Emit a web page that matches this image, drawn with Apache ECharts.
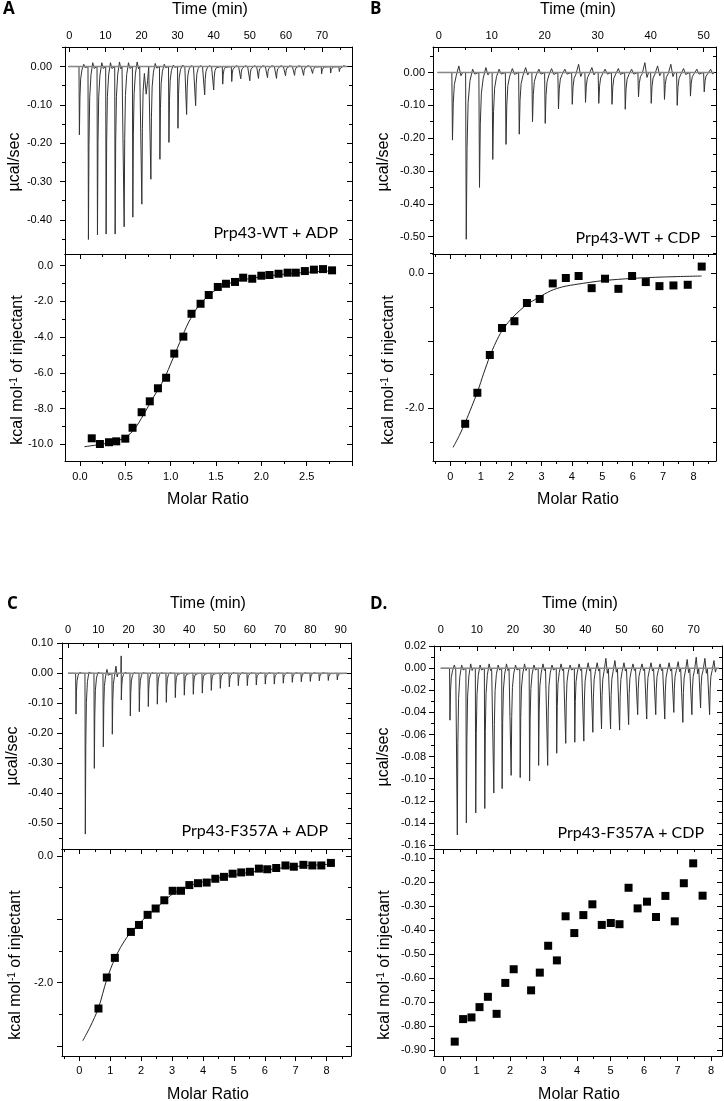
<!DOCTYPE html>
<html><head><meta charset="utf-8">
<script src="https://cdn.jsdelivr.net/npm/echarts@6/dist/echarts.min.js"></script>
<style>html,body{margin:0;padding:0;background:#fff}#c{width:724px;height:1101px}</style>
</head><body><div id="c"></div>
<script>
// ---------------- DATA ----------------
// Panel A: Prp43-WT + ADP
const aInjTime = [2.8,5.3,7.8,10.2,12.7,15.2,17.6,20.1,22.6,25.1,27.6,30.1,32.5,35.0,37.5,40.0,42.5,45.0,47.5,50.0,52.4,54.9,57.4,59.9,62.4,64.9,67.4,69.9,72.4,74.8];
const aPeak = [-0.178,-0.451,-0.439,-0.437,-0.437,-0.418,-0.393,-0.359,-0.294,-0.242,-0.198,-0.161,-0.125,-0.102,-0.074,-0.061,-0.046,-0.039,-0.032,-0.037,-0.031,-0.029,-0.031,-0.024,-0.023,-0.023,-0.018,-0.019,-0.017,-0.013];
const aBump = [0.006,0.01,0.01,0.01,0.012,0.01,0.012,-0.072,0.008,0.006,0.004,0.003,0.002,0.002,0.002,0.002,0.002,0.002,0.002,0.002,0.002,0.002,0.002,0.002,0.002,0.002,0.002,0.002,0.002,0.002];
const aRatio = [0.13,0.22,0.32,0.40,0.50,0.58,0.68,0.77,0.86,0.95,1.04,1.14,1.23,1.33,1.42,1.52,1.61,1.71,1.80,1.90,2.00,2.09,2.19,2.29,2.38,2.48,2.58,2.68,2.78];
const aHeat = [-9.66,-9.98,-9.88,-9.83,-9.68,-9.07,-8.20,-7.59,-6.86,-6.27,-4.92,-3.97,-2.69,-2.13,-1.64,-1.19,-1.01,-0.91,-0.67,-0.73,-0.56,-0.52,-0.45,-0.39,-0.39,-0.30,-0.22,-0.19,-0.26];
const aFitX = [0.05,0.2,0.35,0.5,0.6,0.7,0.8,0.9,0.95,1.0,1.05,1.1,1.15,1.2,1.3,1.4,1.5,1.6,1.7,1.85,2.0,2.2,2.4,2.6,2.77];
const aFitY = [-10.13,-10.02,-9.88,-9.62,-9.15,-8.35,-7.45,-6.6,-6.1,-5.5,-4.9,-4.3,-3.7,-3.15,-2.3,-1.75,-1.35,-1.08,-0.9,-0.74,-0.62,-0.5,-0.41,-0.34,-0.29];
const aTimeLabels = [0,10,20,30,40,50,60,70];
const aRawLabels = [0,-0.1,-0.2,-0.3,-0.4];
const aRatioLabels = [0,0.5,1,1.5,2,2.5];
const aHeatLabels = [0,-2,-4,-6,-8,-10];

// Panel B: Prp43-WT + CDP
const bInjTime = [2.6,5.2,7.7,10.2,12.7,15.2,17.7,20.1,22.6,25.2,27.7,30.2,32.7,35.2,37.7,40.1,42.6,45.0,47.5,50.1];
const bPeak = [-0.206,-0.508,-0.350,-0.265,-0.219,-0.188,-0.150,-0.155,-0.111,-0.097,-0.091,-0.094,-0.097,-0.112,-0.074,-0.094,-0.082,-0.100,-0.072,-0.059];
const bBump = [0.02,0.01,0.015,0.01,0.012,0.015,0.01,0.012,0.01,0.025,0.015,0.01,0.012,0.01,0.03,0.02,0.025,0.012,0.01,0.01];
const bRatio = [0.49,0.89,1.30,1.70,2.11,2.52,2.94,3.37,3.80,4.22,4.65,5.09,5.53,5.98,6.43,6.88,7.34,7.81,8.27];
const bHeat = [-2.23,-1.77,-1.21,-0.81,-0.71,-0.44,-0.38,-0.15,-0.07,-0.04,-0.22,-0.08,-0.23,-0.04,-0.13,-0.19,-0.18,-0.17,0.10];
const bFitX = [0.09,0.3,0.5,0.7,0.9,1.1,1.3,1.5,1.7,1.9,2.1,2.5,2.9,3.3,3.7,4.2,5.0,6.0,7.0,8.27];
const bFitY = [-2.58,-2.4,-2.2,-1.98,-1.75,-1.48,-1.23,-1.02,-0.85,-0.73,-0.63,-0.47,-0.36,-0.26,-0.2,-0.16,-0.11,-0.075,-0.055,-0.04];
const bTimeLabels = [0,10,20,30,40,50];
const bRawLabels = [0,-0.1,-0.2,-0.3,-0.4,-0.5];
const bRatioLabels = [0,1,2,3,4,5,6,7,8];
const bHeatLabels = [0,-2];

// Panel C: Prp43-F357A + ADP
const cInjTime = [2.64,5.72,8.69,11.66,14.63,17.6,20.57,23.54,26.51,29.48,32.45,35.42,38.39,41.36,44.33,47.3,50.27,53.24,56.21,59.18,62.15,65.12,68.09,71.06,74.03,77.0,79.97,82.94,85.91,88.88];
const cPeak = [-0.136,-0.536,-0.317,-0.245,-0.203,-0.089,-0.142,-0.128,-0.111,-0.103,-0.097,-0.081,-0.073,-0.070,-0.066,-0.057,-0.050,-0.045,-0.041,-0.041,-0.039,-0.036,-0.036,-0.033,-0.030,-0.028,-0.027,-0.025,-0.024,-0.022];
const cBump = [0.003,0.004,0.003,0.013,0.024,0.003,0.002,0.002,0.002,0.002,0.002,0.002,0.002,0.002,0.002,0.002,0.002,0.002,0.002,0.002,0.002,0.002,0.002,0.002,0.002,0.002,0.002,0.002,0.002,0.002];
const cPre = [0,0,0,0,0,0.058,0,0,0,0,0,0,0,0,0,0,0,0,0,0,0,0,0,0,0,0,0,0,0,0];
const cRatio = [0.62,0.89,1.15,1.67,1.93,2.21,2.47,2.75,3.02,3.29,3.56,3.84,4.12,4.40,4.68,4.96,5.24,5.52,5.81,6.08,6.37,6.67,6.94,7.25,7.54,7.83,8.14];
const cHeat = [-2.41,-1.92,-1.61,-1.20,-1.09,-0.93,-0.83,-0.70,-0.55,-0.55,-0.46,-0.43,-0.42,-0.36,-0.33,-0.28,-0.26,-0.25,-0.20,-0.21,-0.19,-0.15,-0.17,-0.14,-0.15,-0.15,-0.11];
const cFitX = [0.11,0.35,0.62,0.89,1.15,1.4,1.67,1.93,2.21,2.47,2.75,3.02,3.3,3.56,3.84,4.4,4.96,5.5,6.1,6.7,7.3,8.14];
const cFitY = [-2.92,-2.7,-2.4,-1.95,-1.62,-1.39,-1.2,-1.07,-0.94,-0.83,-0.71,-0.6,-0.53,-0.47,-0.43,-0.36,-0.3,-0.26,-0.22,-0.18,-0.155,-0.13];
const cTimeLabels = [0,10,20,30,40,50,60,70,80,90];
const cRawLabels = [0.1,0,-0.1,-0.2,-0.3,-0.4,-0.5];
const cRatioLabels = [0,1,2,3,4,5,6,7,8];
const cHeatLabels = [0,-2];

// Panel D: Prp43-F357A + CDP
const dInjTime = [2.57,4.6,7.1,9.7,12.2,14.7,17.0,19.5,22.0,24.6,27.1,29.6,32.1,34.6,37.1,39.6,42.1,44.5,47.0,49.5,52.0,54.5,57.0,59.5,62.0,64.5,67.0,69.5,71.9,74.4];
const dPeak = [-0.047,-0.151,-0.140,-0.131,-0.127,-0.113,-0.109,-0.097,-0.099,-0.102,-0.088,-0.088,-0.077,-0.068,-0.067,-0.066,-0.058,-0.055,-0.055,-0.056,-0.051,-0.042,-0.046,-0.042,-0.046,-0.040,-0.049,-0.042,-0.036,-0.042];
const dBump = [0.003,0.003,0.004,0.003,0.004,0.003,0.004,0.003,0.004,0.003,0.004,0.003,0.004,0.003,0.004,0.005,0.005,0.009,0.007,0.005,0.004,0.004,0.005,0.004,0.005,0.006,0.008,0.01,0.009,0.007];
const dRatio = [0.35,0.60,0.85,1.09,1.34,1.60,1.86,2.11,2.63,2.89,3.14,3.40,3.66,3.92,4.19,4.46,4.74,5.01,5.27,5.54,5.81,6.09,6.36,6.64,6.92,7.19,7.47,7.75];
const dHeat = [-0.865,-0.771,-0.764,-0.721,-0.678,-0.749,-0.620,-0.563,-0.651,-0.577,-0.465,-0.526,-0.342,-0.412,-0.337,-0.292,-0.378,-0.370,-0.375,-0.223,-0.309,-0.281,-0.345,-0.257,-0.363,-0.204,-0.121,-0.256];
const dTimeLabels = [0,10,20,30,40,50,60,70];
const dRawLabels = [0.02,0,-0.02,-0.04,-0.06,-0.08,-0.1,-0.12,-0.14,-0.16];
const dRatioLabels = [0,1,2,3,4,5,6,7,8];
const dHeatLabels = [-0.1,-0.2,-0.3,-0.4,-0.5,-0.6,-0.7,-0.8,-0.9];

// ---------------- BUILD ----------------
const FONT = '"Liberation Sans", Arial, sans-serif';
const grids = [], xAxes = [], yAxes = [], series = [];

function steps(a, b, s) {
  const r = [];
  for (let k = Math.ceil(a / s - 1e-9); k * s <= b + 1e-9; k++) r.push(+(k * s).toFixed(6));
  return r;
}
function axis(dim, gi, pos, range, o) {
  const a = {
    type: 'value', gridIndex: gi, position: pos, min: range[0], max: range[1],
    axisLine: { show: o.line !== false, onZero: false, lineStyle: { color: '#000', width: 1 } },
    axisTick: { show: !!o.ticks, inside: !!o.inside, length: o.len || 5, lineStyle: { color: '#000', width: 1 } },
    axisLabel: { show: !!o.labels },
    splitLine: { show: false }, minorTick: { show: false }, minorSplitLine: { show: false },
    axisPointer: { show: false }, silent: true
  };
  if (o.ticks) a.axisTick.customValues = o.ticks;
  if (o.labels) Object.assign(a.axisLabel, { customValues: o.labels, formatter: o.fmt, margin: o.margin, fontSize: 11, fontFamily: FONT, color: '#000' });
  const arr = dim === 'x' ? xAxes : yAxes;
  arr.push(a);
  return arr.length - 1;
}
function panel(p) {
  grids.push({ left: p.rect[0], top: p.rect[1], width: p.rect[2], height: p.rect[3], containLabel: false, outerBoundsMode: 'none' });
  const gi = grids.length - 1;
  const top = p.kind === 'top';
  const xi = axis('x', gi, top ? 'top' : 'bottom', p.x, { ticks: steps(p.x[0], p.x[1], p.xMaj), inside: top, labels: p.xLabels, fmt: p.xFmt, margin: p.xMargin });
  axis('x', gi, top ? 'top' : 'bottom', p.x, { line: false, ticks: steps(p.x[0], p.x[1], p.xMin), inside: top, len: 3 });
  if (top) {
    axis('x', gi, 'bottom', p.x, {});
  } else {
    axis('x', gi, 'top', p.x, { ticks: steps(p.x[0], p.x[1], p.xMaj), inside: true });
    axis('x', gi, 'top', p.x, { line: false, ticks: steps(p.x[0], p.x[1], p.xMin), inside: true, len: 3 });
  }
  const yi = axis('y', gi, 'left', p.y, { ticks: steps(p.y[0], p.y[1], p.yMaj), inside: false, labels: p.yLabels, fmt: p.yFmt, margin: p.yMargin });
  axis('y', gi, 'left', p.y, { line: false, ticks: steps(p.y[0], p.y[1], p.yMin), inside: false, len: 3 });
  axis('y', gi, 'right', p.y, { ticks: steps(p.y[0], p.y[1], p.yMaj), inside: true });
  axis('y', gi, 'right', p.y, { line: false, ticks: steps(p.y[0], p.y[1], p.yMin), inside: true, len: 3 });
  return { xi, yi };
}
// each injection drawn as a narrow needle with a short recovery tail
function trace(times, peaks, bumps, pres, start, end) {
  const d = [[start, 0]];
  times.forEach((t, i) => {
    const p = peaks[i], b = bumps[i];
    d.push([t - 0.12, 0]);
    if (pres && pres[i]) d.push([t - 0.05, pres[i]]);
    d.push([t, p]);
    d.push([t + 0.15, p * 0.45]);
    d.push([t + 0.35, p * 0.18]);
    d.push([t + 0.7, p * 0.05]);
    d.push([t + 1.2, b]);
    d.push([t + 1.6, -0.5 * Math.abs(b)]);
    d.push([t + 1.9, 0]);
  });
  d.push([end, 0]);
  return d;
}
function addTop(ax, times, peaks, bumps, pres, start, end) {
  series.push({ type: 'line', xAxisIndex: ax.xi, yAxisIndex: ax.yi, data: trace(times, peaks, bumps, pres, start, end),
    symbol: 'none', lineStyle: { color: '#333', width: 1 }, silent: true, animation: false, z: 2 });
  series.push({ type: 'line', xAxisIndex: ax.xi, yAxisIndex: ax.yi, data: [[start, 0], [end, 0]],
    symbol: 'none', lineStyle: { color: '#888', width: 1.5 }, silent: true, animation: false, z: 3 });
}
function addBottom(ax, rx, ry, fx, fy) {
  if (fx) series.push({ type: 'line', xAxisIndex: ax.xi, yAxisIndex: ax.yi, data: fx.map((v, i) => [v, fy[i]]),
    symbol: 'none', smooth: 0.3, lineStyle: { color: '#222', width: 1 }, silent: true, animation: false, z: 2 });
  series.push({ type: 'scatter', xAxisIndex: ax.xi, yAxisIndex: ax.yi, data: rx.map((v, i) => [v, ry[i]]),
    symbol: 'rect', symbolSize: 8, itemStyle: { color: '#000', opacity: 1 }, silent: true, animation: false, z: 3 });
}
const f0 = v => v.toFixed(0), f1 = v => v.toFixed(1), f2 = v => v.toFixed(2);

// A
let ax = panel({ kind: 'top', rect: [65, 47, 287, 207], x: [-1.19, 78.31], y: [-0.489, 0.051], xMaj: 10, xMin: 5, yMaj: 0.1, yMin: 0.05,
  xLabels: aTimeLabels, xFmt: f0, xMargin: 6, yLabels: aRawLabels, yFmt: f2, yMargin: 13 });
addTop(ax, aInjTime, aPeak, aBump, null, -0.3, 77);
ax = panel({ kind: 'bottom', rect: [65, 254, 287, 207], x: [-0.165, 3.0], y: [-10.93, 0.655], xMaj: 0.5, xMin: 0.25, yMaj: 2, yMin: 1,
  xLabels: aRatioLabels, xFmt: f1, xMargin: 10, yLabels: aHeatLabels, yFmt: f1, yMargin: 12 });
addBottom(ax, aRatio, aHeat, aFitX, aFitY);
// B
ax = panel({ kind: 'top', rect: [433, 47, 283, 207], x: [-1.075, 52.32], y: [-0.5528, 0.0776], xMaj: 10, xMin: 5, yMaj: 0.1, yMin: 0.05,
  xLabels: bTimeLabels, xFmt: f0, xMargin: 6, yLabels: bRawLabels, yFmt: f2, yMargin: 8 });
addTop(ax, bInjTime, bPeak, bBump, null, -0.2, 52);
ax = panel({ kind: 'bottom', rect: [433, 254, 283, 207], x: [-0.569, 8.74], y: [-2.781, 0.286], xMaj: 1, xMin: 0.5, yMaj: 1, yMin: 0.5,
  xLabels: bRatioLabels, xFmt: f0, xMargin: 10, yLabels: bHeatLabels, yFmt: f1, yMargin: 9 });
addBottom(ax, bRatio, bHeat, bFitX, bFitY);
// C
ax = panel({ kind: 'top', rect: [62, 643, 289, 206], x: [-1.98, 93.4], y: [-0.5857, 0.101], xMaj: 10, xMin: 5, yMaj: 0.1, yMin: 0.05,
  xLabels: cTimeLabels, xFmt: f0, xMargin: 8, yLabels: cRawLabels, yFmt: f2, yMargin: 9 });
addTop(ax, cInjTime, cPeak, cBump, cPre, 0, 92);
ax = panel({ kind: 'bottom', rect: [62, 849, 289, 207], x: [-0.56, 8.79], y: [-3.16, 0.11], xMaj: 1, xMin: 0.5, yMaj: 1, yMin: 0.5,
  xLabels: cRatioLabels, xFmt: f0, xMargin: 9, yLabels: cHeatLabels, yFmt: f1, yMargin: 9 });
addBottom(ax, cRatio, cHeat, cFitX, cFitY);
// D
ax = panel({ kind: 'top', rect: [434, 646, 288, 203], x: [-1.85, 77.83], y: [-0.1637, 0.0202], xMaj: 10, xMin: 5, yMaj: 0.02, yMin: 0.01,
  xLabels: dTimeLabels, xFmt: f0, xMargin: 11, yLabels: dRawLabels, yFmt: f2, yMargin: 8 });
addTop(ax, dInjTime, dPeak, dBump, null, 0, 77);
ax = panel({ kind: 'bottom', rect: [434, 849, 288, 207], x: [-0.269, 8.33], y: [-0.925, -0.0612], xMaj: 1, xMin: 0.5, yMaj: 0.1, yMin: 0.05,
  xLabels: dRatioLabels, xFmt: f0, xMargin: 9, yLabels: dHeatLabels, yFmt: f2, yMargin: 8 });
addBottom(ax, dRatio, dHeat, null, null);

// ---------------- TEXT ----------------
const graphic = [];
function txt(x, y, text, o) {
  graphic.push(Object.assign({ type: 'text', x, y, silent: true, z: 100,
    style: Object.assign({ text, fill: '#000', font: '16px ' + FONT, align: 'center', verticalAlign: 'middle' }, o.style || {}) },
    o.rot ? { rotation: o.rot } : {}));
}
const letterFont = 'bold 17px "Open Sans", sans-serif';
txt(3, 9, 'A', { style: { font: letterFont, align: 'left' } });
txt(370, 9, 'B', { style: { font: letterFont, align: 'left' } });
txt(7, 604, 'C', { style: { font: letterFont, align: 'left' } });
txt(370, 604, 'D.', { style: { font: letterFont, align: 'left' } });
[[210, 10], [578, 10], [208, 604], [580, 604]].forEach(p => txt(p[0], p[1], 'Time (min)', {}));
[[208, 500], [578, 500], [208, 1095], [579, 1095]].forEach(p => txt(p[0], p[1], 'Molar Ratio', {}));
[[15, 162], [384, 162], [13, 756], [384, 757]].forEach(p => txt(p[0], p[1], 'µcal/sec', { rot: Math.PI / 2 }));
const richK = { a: { font: '16px ' + FONT, lineHeight: 18, fill: '#000' }, s: { font: '10px ' + FONT, lineHeight: 10, verticalAlign: 'top', fill: '#000' } };
[[18, 370], [389, 370], [16, 965], [385, 965]].forEach(p => txt(p[0], p[1], '{a|kcal mol}{s|-1}{a| of injectant}', { rot: Math.PI / 2, style: { rich: richK } }));
const annFont = '16px Lato, "Open Sans", sans-serif';
txt(338, 233, 'Prp43-WT + ADP', { style: { font: annFont, align: 'right' } });
txt(700, 238, 'Prp43-WT + CDP', { style: { font: annFont, align: 'right' } });
txt(328, 831, 'Prp43-F357A + ADP', { style: { font: annFont, align: 'right' } });
txt(704, 833, 'Prp43-F357A + CDP', { style: { font: annFont, align: 'right' } });

const chart = echarts.init(document.getElementById('c'), null, { renderer: 'canvas' });
chart.setOption({ animation: false, backgroundColor: '#fff', grid: grids, xAxis: xAxes, yAxis: yAxes, series, graphic });
</script>
</body></html>
